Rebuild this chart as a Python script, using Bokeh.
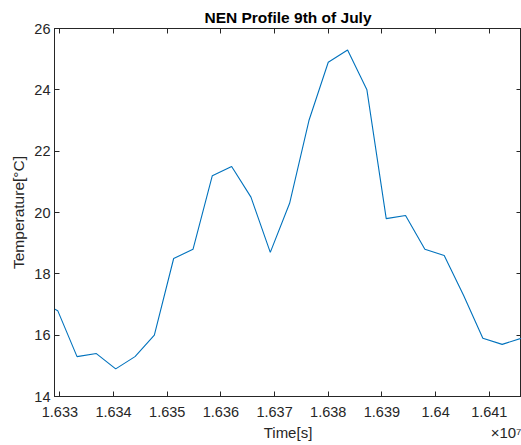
from bokeh.plotting import figure
from bokeh.models import (ColumnDataSource, FixedTicker, LinearAxis, Range1d,
                          CustomLabelingPolicy)
from bokeh.embed import file_html
from bokeh.resources import INLINE

# Time stamps [s] and temperatures [°C] of the NEN profile, 9th of July
time_s = [16329000, 16329600, 16333200, 16336800, 16340400, 16344000,
          16347600, 16351200, 16354800, 16358400, 16362000, 16365600,
          16369200, 16372800, 16376400, 16380000, 16383600, 16387200,
          16390800, 16394400, 16398000, 16401600, 16405200, 16408800,
          16412400, 16416000]
temperature = [16.85, 16.8, 15.3, 15.4, 14.9, 15.3,
               16.0, 18.5, 18.8, 21.2, 21.5, 20.5,
               18.7, 20.3, 23.0, 24.9, 25.3, 24.0,
               19.8, 19.9, 18.8, 18.6, 17.3, 15.9,
               15.7, 15.9]

x_ticks = [16330000, 16340000, 16350000, 16360000, 16370000,
           16380000, 16390000, 16400000, 16410000]
x_tick_labels = ["1.633", "1.634", "1.635", "1.636", "1.637",
                 "1.638", "1.639", "1.64", "1.641"]
y_ticks = [14, 16, 18, 20, 22, 24, 26]

FONT = "Liberation Sans"
INK = "#262626"

src = ColumnDataSource(data=dict(t=time_s, temp=temperature))
x0, x1 = time_s[0], time_s[-1]

p = figure(width=521, height=445, output_backend="svg", toolbar_location=None,
           x_range=Range1d(x0, x1), y_range=Range1d(14, 26),
           min_border_left=54, min_border_right=0, min_border_top=28,
           min_border_bottom=49)

p.title.text = "NEN Profile 9th of July"
p.title.text_font = FONT
p.title.text_font_size = "15.5px"
p.title.text_font_style = "bold"
p.title.text_color = "#000000"
p.title.align = "center"
p.title.offset = 0
p.title.standoff = 5

p.line("t", "temp", source=src, line_color="#0072BD", line_width=1.1)

p.grid.visible = False
p.outline_line_color = INK
p.outline_line_width = 1
p.background_fill_color = "white"
p.border_fill_color = "white"

# box axes on top/right: ticks only, every label filtered out
no_labels = CustomLabelingPolicy(
    code="for (const i of Array.from(indices)) { indices.unset(i) }")


def style_axis(ax, labels=True):
    ax.axis_line_color = INK
    ax.major_tick_line_color = INK
    ax.major_tick_in = 5
    ax.major_tick_out = 0
    ax.minor_tick_line_color = None
    if labels:
        ax.major_label_text_font = FONT
        ax.major_label_text_font_size = "14.5px"
        ax.major_label_text_color = INK
        ax.axis_label_text_font = FONT
        ax.axis_label_text_font_size = "15.5px"
        ax.axis_label_text_font_style = "normal"
        ax.axis_label_text_color = INK
    else:
        ax.major_label_policy = no_labels
        ax.major_label_text_font_size = "0px"
        ax.major_label_standoff = 0
        ax.axis_label = None


xax = p.xaxis[0]
xax.ticker = FixedTicker(ticks=x_ticks)
xax.major_label_overrides = {t: s for t, s in zip(x_ticks, x_tick_labels)}
xax.major_label_standoff = 10
style_axis(xax)
xax.axis_label = None

# second row under the time axis: the axis title and the ×10⁷ multiplier
mid = (x0 + x1) / 2
mult_pos = x0 + 0.968 * (x1 - x0)
caption_ax = LinearAxis(ticker=FixedTicker(ticks=[mid, mult_pos]),
                        major_label_overrides={mid: "Time[s]",
                                               mult_pos: "×10⁷"})
caption_ax.axis_line_color = None
caption_ax.major_tick_line_color = None
caption_ax.minor_tick_line_color = None
caption_ax.major_tick_in = 0
caption_ax.major_tick_out = 0
caption_ax.major_label_standoff = 4
caption_ax.major_label_text_font = FONT
caption_ax.major_label_text_font_size = "15px"
caption_ax.major_label_text_color = INK
p.add_layout(caption_ax, "below")

yax = p.yaxis[0]
yax.ticker = FixedTicker(ticks=y_ticks)
yax.axis_label = "Temperature[°C]"
yax.major_label_standoff = 4
yax.axis_label_standoff = 4
style_axis(yax)

top_ax = LinearAxis(ticker=FixedTicker(ticks=x_ticks))
style_axis(top_ax, labels=False)
p.add_layout(top_ax, "above")

right_ax = LinearAxis(ticker=FixedTicker(ticks=y_ticks))
style_axis(right_ax, labels=False)
p.add_layout(right_ax, "right")

open("out.html", "w").write(file_html(p, INLINE))
